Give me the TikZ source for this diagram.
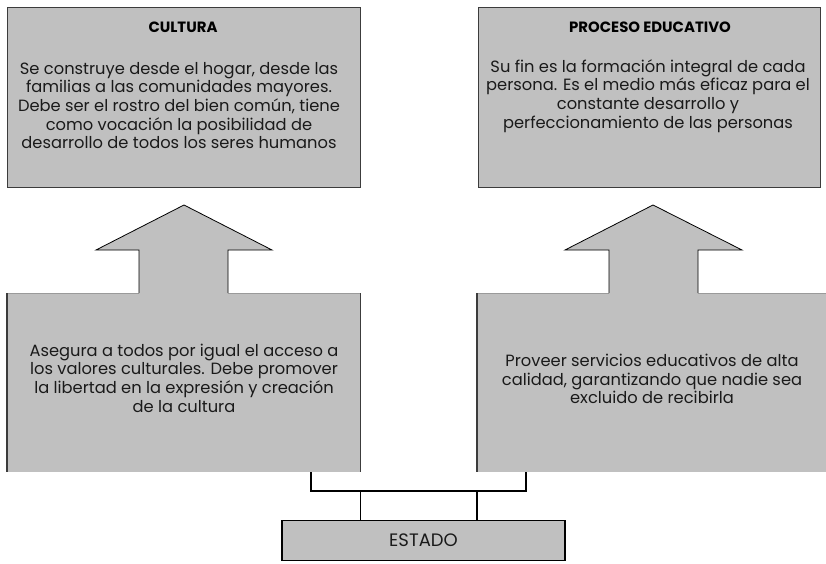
\documentclass[tikz,border=0pt]{standalone}
\usepackage{fontspec}
\setmainfont{Poppins}
\definecolor{boxgray}{HTML}{C0C0C0}
\definecolor{edgegray}{HTML}{3C3C3C}
\definecolor{topgray}{HTML}{9A9A9A}
\definecolor{txt}{HTML}{1A1A1A}
\begin{document}
\begin{tikzpicture}[x=1pt,y=-1pt,
  topbox/.style={draw=edgegray,line width=0.9pt,fill=boxgray,minimum width=#1,minimum height=180pt,inner sep=0pt},
  lowbox/.style={fill=boxgray,minimum width=#1,minimum height=179pt,inner sep=0pt},
  bodytxt/.style={align=center,text=txt,font=\fontsize{16.3}{18.7}\selectfont,inner sep=0pt},
  titletxt/.style={text=black,font=\fontsize{14.9}{16}\selectfont\bfseries,inner sep=0pt},
  arrowline/.style={draw=black,line width=0.8pt},
  conn/.style={draw=black,line width=1.3pt}]
\useasboundingbox[fill=white] (0,0) rectangle (826,564);
% top boxes
\node[topbox=353pt] (cult) at (183.5,97.5) {};
\node[topbox=342pt] (proc) at (649,97.5) {};
\node[titletxt] (cultT) at (183,27) {CULTURA};
\node[titletxt] (procT) at (650,27) {PROCESO EDUCATIVO};
\node[bodytxt] (cultB) at (179,105.5) {Se construye desde el hogar, desde las\\familias a las comunidades mayores.\\Debe ser el rostro del bien común, tiene\\como vocación la posibilidad de\\desarrollo de todos los seres humanos};
\node[bodytxt] (procB) at (648,96) {Su fin es la formación integral de cada\\persona. Es el medio más eficaz para el\\constante desarrollo y\\perfeccionamiento de las personas};
% lower boxes
\node[lowbox=353pt,anchor=north west] (lowL) at (7,293) {};
\node[lowbox=349pt,anchor=north west] (lowR) at (477,293) {};
\draw[topgray,line width=0.7pt] (lowL.north west) -- (lowL.north east);
\draw[topgray,line width=0.7pt] (lowR.north west) -- (lowR.north east);
\draw[edgegray,line width=1.2pt] (lowL.north west) -- (lowL.south west);
\draw[edgegray,line width=1.2pt] (lowL.north east) -- (lowL.south east);
\draw[edgegray,line width=1.2pt] (lowR.north west) -- (lowR.south west);
% arrows
\fill[boxgray] (139,294) -- (139,250) -- (96,250) -- (184,205) -- (272,250) -- (228,250) -- (228,294) -- cycle;
\draw[arrowline] (139,293) -- (139,250) -- (96,250) -- (184,205) -- (272,250) -- (228,250) -- (228,293);
\fill[boxgray] (609,294) -- (609,250) -- (565,250) -- (653,205) -- (742,250) -- (698,250) -- (698,294) -- cycle;
\draw[arrowline] (609,293) -- (609,250) -- (565,250) -- (653,205) -- (742,250) -- (698,250) -- (698,293);
\node[bodytxt] (lowLT) at (184,378) {Asegura a todos por igual el acceso a\\los valores culturales. Debe promover\\la libertad en la expresión y creación\\de la cultura};
\node[bodytxt] (lowRT) at (652,379) {Proveer servicios educativos de alta\\calidad, garantizando que nadie sea\\excluido de recibirla};
% estado
\node[draw=black,line width=1.3pt,fill=boxgray,minimum width=283pt,minimum height=40pt,inner sep=0pt,text=txt,font=\fontsize{18}{18}\selectfont] (estado) at (423.5,540.5) {ESTADO};
% connectors
\coordinate (j1) at (311,491);
\coordinate (j2) at (526,491);
\draw[conn] (lowL.south -| j1) -- (j1) -- (j2) -- (lowR.south -| j2);
\draw[conn] (j1 -| lowL.east) -- (estado.north -| lowL.east);
\draw[conn] (j1 -| lowR.west) -- (estado.north -| lowR.west);
\end{tikzpicture}
\end{document}
